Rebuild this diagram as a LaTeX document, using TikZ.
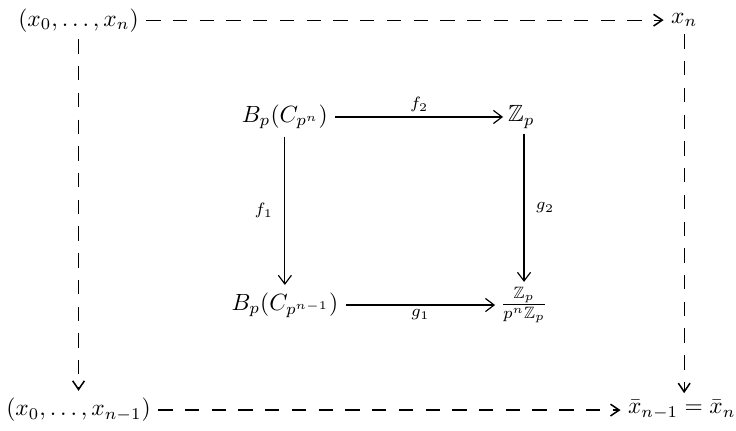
\documentclass[tikz,border=0pt]{standalone}
\usepackage{amsmath,amssymb}
\usetikzlibrary{arrows.meta}
\begin{document}
\begin{tikzpicture}[x=1pt,y=1pt,
  obj/.style={inner sep=3pt},
  lab/.style={font=\scriptsize, inner sep=1.8pt},
  solidarr/.style={-{Straight Barb[length=3.7pt,width=5.6pt]}, line width=0.5pt},
  dasharr/.style={-{Straight Barb[length=3.7pt,width=5pt,line width=0.65pt]}, line width=0.5pt, dash pattern=on 6.1pt off 5.3pt}]
\useasboundingbox (0,0) rectangle (313.9,183.4);
\node[obj] (A) at (33.5,174.8) {$(x_0,\ldots,x_n)$};
\node[obj] (B) at (291.8,174.8) {$x_n$};
\node[obj] (C) at (33.5,8.5) {$(x_0,\ldots,x_{n-1})$};
\node[obj] (D) at (290.8,8.5) {$\bar{x}_{n-1}=\bar{x}_n$};
\node[obj] (P) at (121.5,133.5) {$B_p(C_{p^n})$};
\node[obj, inner sep=2pt] (Q) at (222.4,133.5) {$\mathbb{Z}_p$};
\node[obj] (R) at (121.5,53.3) {$B_p(C_{p^{n-1}})$};
\node[obj, inner sep=2pt] (S) at (223.5,53.3) {$\frac{\mathbb{Z}_p}{p^n\mathbb{Z}_p}$};
\draw[dasharr] (A) -- (B);
\draw[dasharr] (C) -- (D);
\draw[dasharr] (A.south -| C) -- (C);
\draw[dasharr] (B) -- (B |- D.north);
\draw[solidarr] (P) -- node[lab,above] {$f_2$} (Q);
\draw[solidarr] (P) -- node[lab,left,xshift=-3pt] {$f_1$} (P |- R.north);
\draw[solidarr] (R) -- node[lab,below] {$g_1$} (S);
\draw[solidarr] (Q.south -| S) -- node[lab,right,xshift=3pt] {$g_2$} (S);
\end{tikzpicture}
\end{document}
